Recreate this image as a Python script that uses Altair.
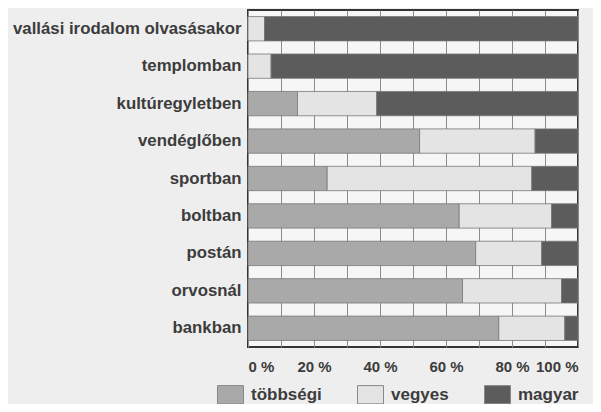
import altair as alt
import pandas as pd

categories = ["vallási irodalom olvasásakor", "templomban", "kultúregyletben",
              "vendéglőben", "sportban", "boltban", "postán", "orvosnál", "bankban"]
groups = ["többségi", "vegyes", "magyar"]
tobbsegi = [0, 0, 15, 52, 24, 64, 69, 65, 76]
vegyes = [5, 7, 24, 35, 62, 28, 20, 30, 20]
magyar = [95, 93, 61, 13, 14, 8, 11, 5, 4]
colors = ["#a9a9a9", "#e4e4e4", "#5c5c5c"]

rows = []
for i, c in enumerate(categories):
    for j, (g, vals) in enumerate(zip(groups, [tobbsegi, vegyes, magyar])):
        rows.append({"cat": c, "group": g, "value": vals[i], "idx": j})
df = pd.DataFrame(rows)

FONT = "Liberation Sans"
TXT = "#3c3c3c"

chart = alt.Chart(df).mark_bar(stroke="#777777", strokeWidth=0.8).encode(
    y=alt.Y("cat:N", sort=categories,
            scale=alt.Scale(paddingInner=0.35, paddingOuter=0.175),
            axis=alt.Axis(title=None, ticks=False, domain=False, labelPadding=7,
                          labelFontSize=16.8, labelFont=FONT, labelFontWeight="bold",
                          labelColor=TXT, labelLimit=320)),
    x=alt.X("value:Q", stack="zero",
            scale=alt.Scale(domain=[0, 100], nice=False),
            axis=alt.Axis(title=None, values=list(range(0, 101, 10)),
                          labelExpr="datum.value % 20 == 0 ? datum.value + ' %' : ''",
                          grid=True, gridColor="#8c8c8c", gridWidth=1,
                          ticks=False, domain=False, labelPadding=12,
                          labelOverlap=False, labelFontSize=15, labelFont=FONT,
                          labelFontWeight="bold", labelColor=TXT)),
    color=alt.Color("group:N", sort=groups,
                    scale=alt.Scale(domain=groups, range=colors),
                    legend=alt.Legend(title=None, orient="none", direction="horizontal",
                                      legendX=-31, legendY=371, padding=0,
                                      symbolType="M-1,-0.7L1,-0.7L1,0.7L-1,0.7Z",
                                      symbolSize=676, symbolStrokeColor="#888888",
                                      symbolStrokeWidth=1, symbolOpacity=1,
                                      labelFontSize=17, labelFont=FONT,
                                      labelFontWeight="bold", labelColor=TXT,
                                      labelOffset=7, columnPadding=33)),
    order=alt.Order("idx:Q"),
).properties(
    width=330, height=337,
    autosize=alt.AutoSizeParams(type="none"),
    padding={"left": 240, "top": 2, "right": 15, "bottom": 57},
    background="#eeeeee",
).configure_view(stroke="#333333", strokeWidth=2, fill="#f6f6f6")

chart.save("out.html", embed_options={"renderer": "svg", "actions": False})
